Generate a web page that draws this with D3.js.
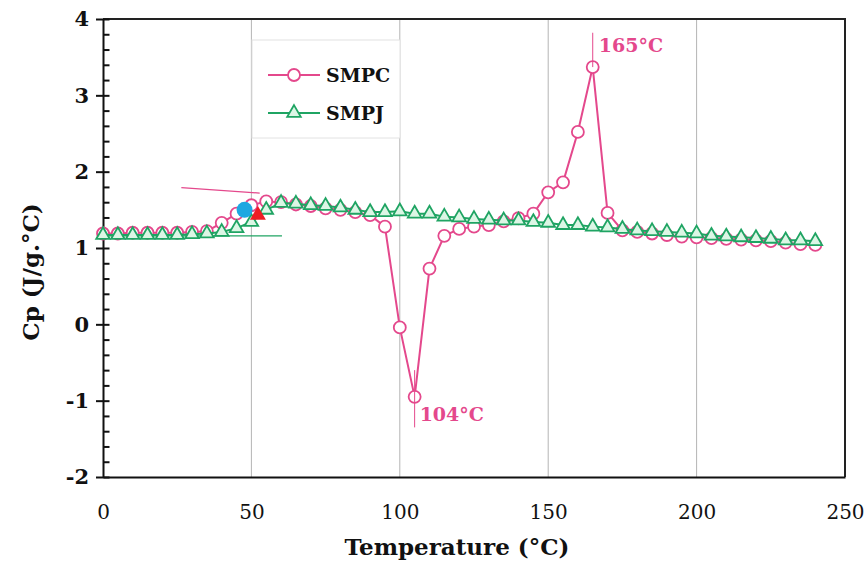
<!DOCTYPE html>
<html>
<head>
<meta charset="utf-8">
<script src="https://cdn.jsdelivr.net/npm/d3@7"></script>
<style>
  body { margin: 0; background: #fff; }
  svg { display: block; }
</style>
</head>
<body>
<div id="chart"></div>
<script>
// temperature steps (°C)
const temps = d3.range(0, 241, 5);

// SMPC specific heat (J/g.°C)
const smpc = [1.19, 1.19, 1.2, 1.2, 1.2, 1.2, 1.21, 1.22, 1.33, 1.45,
  1.56, 1.61, 1.6, 1.57, 1.55, 1.52, 1.5, 1.47, 1.43, 1.28,
  -0.04, -0.95, 0.73, 1.16, 1.25, 1.28, 1.3, 1.35, 1.39, 1.45,
  1.73, 1.86, 2.52, 3.37, 1.46, 1.23, 1.21, 1.19, 1.17, 1.15,
  1.14, 1.13, 1.12, 1.11, 1.1, 1.09, 1.07, 1.05, 1.04];

// SMPJ specific heat (J/g.°C)
const smpj = [1.17, 1.17, 1.17, 1.17, 1.17, 1.17, 1.18, 1.19, 1.21, 1.26,
  1.34, 1.5, 1.59, 1.58, 1.56, 1.55, 1.53, 1.5, 1.47, 1.47,
  1.48, 1.45, 1.45, 1.41, 1.4, 1.38, 1.37, 1.36, 1.36, 1.34,
  1.33, 1.3, 1.3, 1.28, 1.27, 1.25, 1.23, 1.22, 1.21, 1.2,
  1.19, 1.16, 1.15, 1.14, 1.13, 1.12, 1.1, 1.1, 1.09];

const xTicks = [0, 50, 100, 150, 200, 250];
const yTicks = [-2, -1, 0, 1, 2, 3, 4];

// onset tangent lines and markers
const pinkTangent = [[26.4, 1.79], [52.8, 1.72]];
const greenTangent = [[0, 1.16], [60.3, 1.16]];
const onsetSmpc = [47.7, 1.5];
const onsetSmpj = [52.2, 1.43];

// peak annotations
const peaks = [
  { t: 165, y0: 3.37, y1: 3.82, label: "165°C" },
  { t: 105, y0: -0.6, y1: -1.35, label: "104°C" }
];

const W = 868, H = 563;
const PINK = "#e4488c", GREEN = "#1fa463";
const SERIF = "'DejaVu Serif', serif";

const svg = d3.select("#chart").append("svg")
  .attr("width", W).attr("height", H);

const x = d3.scaleLinear().domain([0, 250]).range([103, 845]);
const y = d3.scaleLinear().domain([-2, 4]).range([477, 19]);

// vertical gridlines
svg.append("g")
  .selectAll("line")
  .data(xTicks.slice(1, -1))
  .join("line")
  .attr("x1", d => x(d)).attr("x2", d => x(d))
  .attr("y1", y(4)).attr("y2", y(-2))
  .attr("stroke", "#b4b4b4").attr("stroke-width", 1);

// frame: top and right borders
svg.append("path")
  .attr("d", `M${x(0)},${y(4)}H${x(250)}V${y(-2)}`)
  .attr("fill", "none").attr("stroke", "#222").attr("stroke-width", 2);

// x axis (line + labels, no ticks)
let xAxis = svg.append("g")
  .attr("transform", "translate(0," + y(-2) + ")")
  .call(d3.axisBottom(x).tickValues(xTicks).tickSize(0).tickPadding(28))
xAxis.select(".domain").attr("stroke", "#111").attr("stroke-width", 2);
xAxis.selectAll("text")
  .attr("font-family", SERIF).attr("font-size", 20).attr("fill", "#111");

// y minor ticks (inside)
let yMinor = svg.append("g")
  .attr("transform", "translate(" + x(0) + ",0)")
  .call(d3.axisRight(y).tickValues(d3.range(-2, 4.001, 0.2)).tickSize(6.5).tickFormat(""));
yMinor.select(".domain").remove();
yMinor.selectAll("line").attr("stroke", "#111").attr("stroke-width", 2);

// y major ticks + labels
let yAxis = svg.append("g")
  .attr("transform", "translate(" + x(0) + ",0)")
  .call(d3.axisLeft(y).tickValues(yTicks).tickSize(7).tickPadding(7).tickSizeOuter(0)
    .tickFormat(d => String(d)));
yAxis.select(".domain").attr("stroke", "#111").attr("stroke-width", 2);
yAxis.selectAll("line").attr("stroke", "#111").attr("stroke-width", 2);
yAxis.selectAll("text")
  .attr("font-family", SERIF).attr("font-size", 21).attr("font-weight", "bold").attr("fill", "#111");

// axis titles
svg.append("text")
  .attr("x", 457).attr("y", 555)
  .attr("text-anchor", "middle")
  .attr("font-family", SERIF).attr("font-size", 23).attr("font-weight", "bold").attr("fill", "#111")
  .text("Temperature (°C)");
svg.append("text")
  .attr("transform", "translate(39,272) rotate(-90)")
  .attr("text-anchor", "middle")
  .attr("font-family", SERIF).attr("font-size", 23).attr("font-weight", "bold").attr("fill", "#111")
  .text("Cp (J/g.°C)");

const line = d3.line().x(d => x(d[0])).y(d => y(d[1]));

// tangent lines
svg.append("path").attr("d", line(pinkTangent))
  .attr("fill", "none").attr("stroke", PINK).attr("stroke-width", 1.2);
svg.append("path").attr("d", line(greenTangent))
  .attr("fill", "none").attr("stroke", GREEN).attr("stroke-width", 1.2);

// SMPC series
const smpcPts = temps.map((t, i) => [t, smpc[i]]);
svg.append("path").attr("d", line(smpcPts))
  .attr("fill", "none").attr("stroke", PINK).attr("stroke-width", 2);
svg.append("g").selectAll("circle")
  .data(smpcPts).join("circle")
  .attr("cx", d => x(d[0])).attr("cy", d => y(d[1])).attr("r", 6)
  .attr("fill", "#fff").attr("stroke", PINK).attr("stroke-width", 1.8);

// SMPJ series
const smpjPts = temps.map((t, i) => [t, smpj[i]]);
const tri = d3.symbol().type(d3.symbolTriangle).size(80);
svg.append("path").attr("d", line(smpjPts))
  .attr("fill", "none").attr("stroke", GREEN).attr("stroke-width", 2);
svg.append("g").selectAll("path")
  .data(smpjPts).join("path")
  .attr("d", tri)
  .attr("transform", d => "translate(" + x(d[0]) + "," + y(d[1]) + ")")
  .attr("fill", "#dcf6e5").attr("stroke", GREEN).attr("stroke-width", 1.8);

// onset markers
svg.append("circle")
  .attr("cx", x(onsetSmpc[0])).attr("cy", y(onsetSmpc[1])).attr("r", 8)
  .attr("fill", "#1ea7e1");
svg.append("path")
  .attr("d", d3.symbol().type(d3.symbolTriangle).size(110))
  .attr("transform", "translate(" + x(onsetSmpj[0]) + "," + y(onsetSmpj[1]) + ")")
  .attr("fill", "#ee1c24");

// peak annotations
peaks.forEach(p => {
  svg.append("line")
    .attr("x1", x(p.t)).attr("x2", x(p.t))
    .attr("y1", y(p.y0)).attr("y2", y(p.y1))
    .attr("stroke", PINK).attr("stroke-width", 1);
});
svg.append("text")
  .attr("x", x(165) + 6).attr("y", 52)
  .attr("font-family", SERIF).attr("font-size", 19).attr("font-weight", "bold").attr("fill", PINK)
  .text(peaks[0].label);
svg.append("text")
  .attr("x", x(105) + 5).attr("y", 421)
  .attr("font-family", SERIF).attr("font-size", 19).attr("font-weight", "bold").attr("fill", PINK)
  .text(peaks[1].label);

// legend
const legend = svg.append("g");
legend.append("rect")
  .attr("x", 252).attr("y", 40).attr("width", 148).attr("height", 98)
  .attr("fill", "#fff").attr("stroke", "#e2e2e2").attr("stroke-width", 1);
legend.append("line").attr("x1", 268).attr("x2", 320).attr("y1", 75).attr("y2", 75)
  .attr("stroke", PINK).attr("stroke-width", 2);
legend.append("circle").attr("cx", 294).attr("cy", 75).attr("r", 6)
  .attr("fill", "#fff").attr("stroke", PINK).attr("stroke-width", 1.8);
legend.append("line").attr("x1", 268).attr("x2", 320).attr("y1", 113).attr("y2", 113)
  .attr("stroke", GREEN).attr("stroke-width", 2);
legend.append("path").attr("d", tri)
  .attr("transform", "translate(294,113)")
  .attr("fill", "#dcf6e5").attr("stroke", GREEN).attr("stroke-width", 1.8);
legend.append("text").attr("x", 326).attr("y", 82)
  .attr("font-family", SERIF).attr("font-size", 19).attr("font-weight", "bold").attr("fill", "#111")
  .text("SMPC");
legend.append("text").attr("x", 326).attr("y", 120)
  .attr("font-family", SERIF).attr("font-size", 19).attr("font-weight", "bold").attr("fill", "#111")
  .text("SMPJ");
</script>
</body>
</html>
